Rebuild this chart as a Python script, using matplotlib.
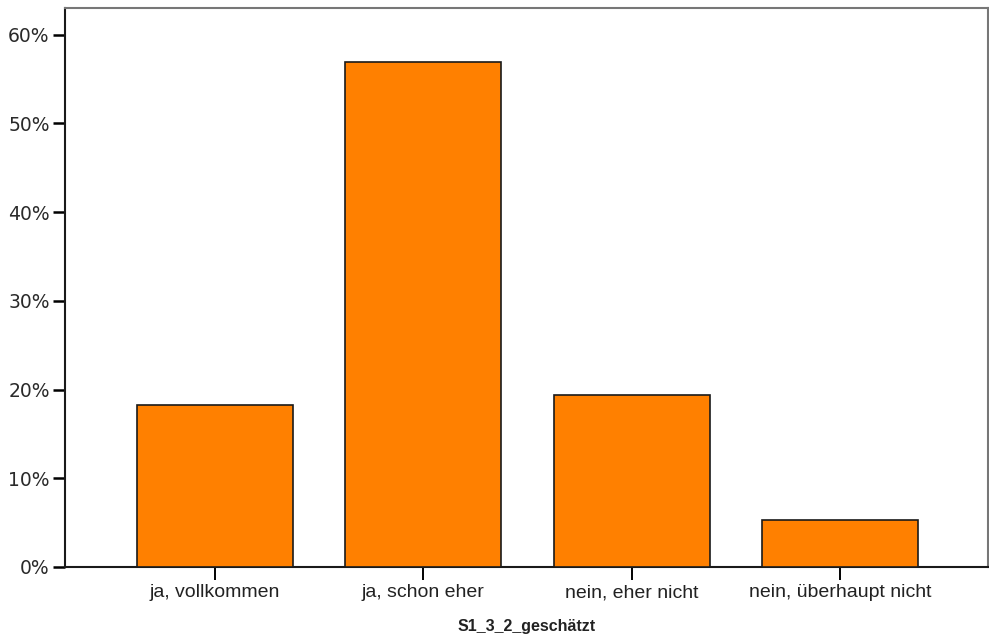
import matplotlib
matplotlib.use("Agg")
from matplotlib import pyplot as plt
from matplotlib.ticker import FuncFormatter

categories = ["ja, vollkommen", "ja, schon eher", "nein, eher nicht", "nein, überhaupt nicht"]
percent = [18.3, 56.9, 19.4, 5.3]
yticks = [0, 10, 20, 30, 40, 50, 60]

fig = plt.figure(figsize=(9.89, 6.43), dpi=100)
ax = fig.add_axes([65/989, 76/643, 923/989, 559/643])

x = list(range(len(categories)))
ax.bar(x, percent, width=0.75, color="#ff8000", edgecolor="#1a1a1a", linewidth=1.2, zorder=3)

ax.set_xlim(-0.72, 3.71)
ax.set_ylim(0, 63)
ax.set_yticks(yticks)
ax.yaxis.set_major_formatter(FuncFormatter(lambda v, p: "%d%%" % v))
ax.set_xticks(x)
ax.set_xticklabels(categories, family="Liberation Sans", fontsize=14, color="#222222")
for lab in ax.get_yticklabels():
    lab.set_family("DejaVu Sans")
    lab.set_fontsize(13.5)
    lab.set_color("#2a2a2a")

ax.tick_params(axis="y", direction="out", length=9, width=1.8, pad=2)
ax.tick_params(axis="x", direction="out", length=9.5, width=1.4, pad=3)

for s in ["left", "bottom"]:
    ax.spines[s].set_color("#1a1a1a")
    ax.spines[s].set_linewidth(1.5)
for s in ["top", "right"]:
    ax.spines[s].set_color("#777777")
    ax.spines[s].set_linewidth(1.5)

ax.set_xlabel("S1_3_2_geschätzt", family="Liberation Sans", fontsize=11.5, weight="bold",
              color="#222222", labelpad=13)

fig.savefig("out.png", dpi=100)
